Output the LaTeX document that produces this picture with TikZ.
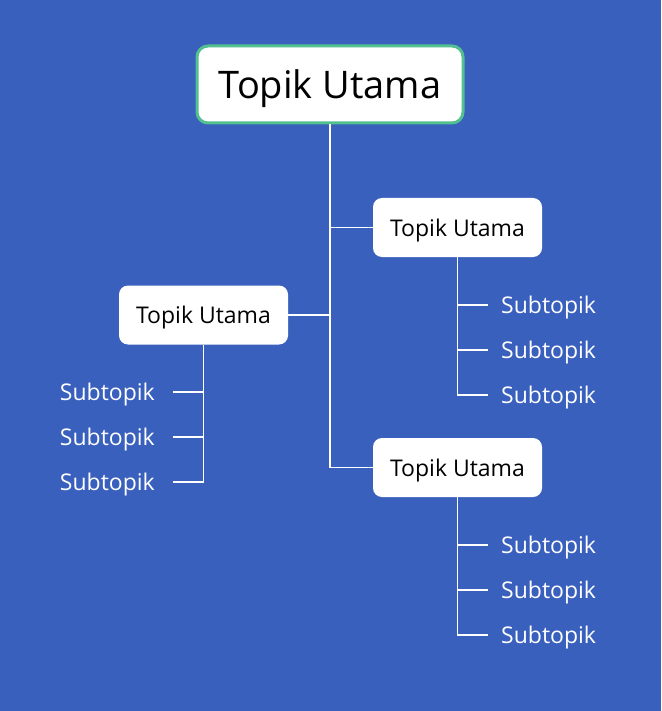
\documentclass[tikz,border=0pt]{standalone}
\usepackage{fontspec}
\setmainfont{Open Sans}
\definecolor{bgblue}{HTML}{3A60BE}
\definecolor{rootgreen}{HTML}{52C08F}
\begin{document}
\begin{tikzpicture}[x=1pt,y=-1pt,
  rootbox/.style={fill=white,draw=rootgreen,line width=3pt,rounded corners=11pt,
    minimum width=266pt,minimum height=77pt,inner sep=0pt,text depth=0pt,
    font=\fontsize{38}{45}\selectfont,text=black},
  topicbox/.style={fill=white,rounded corners=9pt,minimum width=169pt,minimum height=59pt,
    inner sep=0pt,text depth=0pt,font=\fontsize{23}{27}\selectfont,text=black},
  subtext/.style={inner sep=0pt,font=\fontsize{23}{28}\selectfont,text=white},
  link/.style={draw=white,line width=1.5pt}]
\fill[bgblue] (0,0) rectangle (661,711);
\useasboundingbox (0,0) rectangle (661,711);

\node[rootbox] (root) at (330,84.5) {Topik Utama};
\node[topicbox] (rt) at (457.5,227.5) {Topik Utama};
\node[topicbox] (lt) at (203.5,315) {Topik Utama};
\node[topicbox] (rb) at (457.5,467.5) {Topik Utama};

% trunk
\draw[link] (root.south) |- (rb.west);
\draw[link] (root.south |- rt.west) -- (rt.west);
\draw[link] (root.south |- lt.east) -- (lt.east);

% right top subtopics
\node[subtext,anchor=west] (rt1) at (501,308) {Subtopik};
\node[subtext,anchor=west] (rt2) at (501,353) {Subtopik};
\node[subtext,anchor=west] (rt3) at (501,398) {Subtopik};
\coordinate (rtc1) at (488,305);
\coordinate (rtc2) at (488,350);
\coordinate (rtc3) at (488,395);
\draw[link] (rt.south) |- (rtc3);
\draw[link] (rt.south |- rtc1) -- (rtc1);
\draw[link] (rt.south |- rtc2) -- (rtc2);

% right bottom subtopics
\node[subtext,anchor=west] (rb1) at (501,548) {Subtopik};
\node[subtext,anchor=west] (rb2) at (501,593) {Subtopik};
\node[subtext,anchor=west] (rb3) at (501,638) {Subtopik};
\coordinate (rbc1) at (488,545);
\coordinate (rbc2) at (488,590);
\coordinate (rbc3) at (488,635);
\draw[link] (rb.south) |- (rbc3);
\draw[link] (rb.south |- rbc1) -- (rbc1);
\draw[link] (rb.south |- rbc2) -- (rbc2);

% left subtopics
\node[subtext,anchor=east] (lt1) at (155,395) {Subtopik};
\node[subtext,anchor=east] (lt2) at (155,440) {Subtopik};
\node[subtext,anchor=east] (lt3) at (155,485) {Subtopik};
\coordinate (ltc1) at (173,392);
\coordinate (ltc2) at (173,437);
\coordinate (ltc3) at (173,482);
\draw[link] (lt.south) |- (ltc3);
\draw[link] (lt.south |- ltc1) -- (ltc1);
\draw[link] (lt.south |- ltc2) -- (ltc2);
\end{tikzpicture}
\end{document}
